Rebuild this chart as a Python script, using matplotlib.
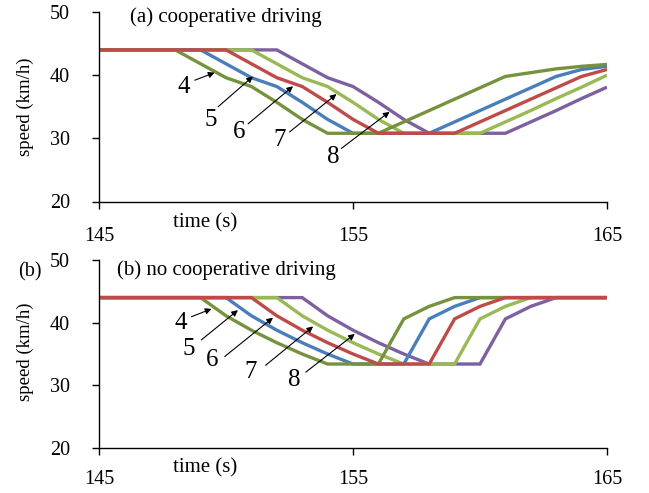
import matplotlib
matplotlib.use("Agg")
import matplotlib.pyplot as plt

plt.rcParams['font.family'] = ['Liberation Serif', 'DejaVu Serif']

time = [145, 146, 147, 148, 149, 150, 151, 152, 153, 154, 155,
        156, 157, 158, 159, 160, 161, 162, 163, 164, 165]

# (a) cooperative driving
coop_4 = [44, 44, 44, 44, 41.8, 39.6, 38.2, 35.7, 33.0, 30.8, 30.8,
          30.8, 32.6, 34.4, 36.2, 38.0, 39.8, 40.4, 41.0, 41.4, 41.7]
coop_5 = [44, 44, 44, 44, 44, 41.8, 39.6, 38.2, 35.7, 33.0, 30.8,
          30.8, 30.8, 30.8, 32.6, 34.4, 36.2, 38.0, 39.8, 40.9, 41.4]
coop_6 = [44, 44, 44, 44, 44, 44, 41.8, 39.6, 38.2, 35.7, 33.0,
          30.8, 30.8, 30.8, 30.8, 32.6, 34.4, 36.2, 38.0, 39.8, 40.9]
coop_7 = [44, 44, 44, 44, 44, 44, 44, 41.8, 39.6, 38.2, 35.7,
          33.0, 30.8, 30.8, 30.8, 30.8, 32.6, 34.4, 36.3, 38.1, 40.0]
coop_8 = [44, 44, 44, 44, 44, 44, 44, 44, 41.8, 39.6, 38.2,
          35.7, 33.0, 30.8, 30.8, 30.8, 30.8, 32.6, 34.4, 36.3, 38.1]

# (b) no cooperative driving
nocoop_4 = [44, 44, 44, 44, 44, 41.1, 38.8, 36.8, 35.0, 33.4, 33.4,
            33.4, 40.6, 42.6, 44, 44, 44, 44, 44, 44, 44]
nocoop_5 = [44, 44, 44, 44, 44, 44, 41.1, 38.8, 36.8, 35.0, 33.4,
            33.4, 33.4, 40.6, 42.6, 44, 44, 44, 44, 44, 44]
nocoop_6 = [44, 44, 44, 44, 44, 44, 44, 41.1, 38.8, 36.8, 35.0,
            33.4, 33.4, 33.4, 40.6, 42.6, 44, 44, 44, 44, 44]
nocoop_7 = [44, 44, 44, 44, 44, 44, 44, 44, 41.1, 38.8, 36.8,
            35.0, 33.4, 33.4, 33.4, 40.6, 42.6, 44, 44, 44, 44]
nocoop_8 = [44, 44, 44, 44, 44, 44, 44, 44, 44, 41.1, 38.8,
            36.8, 35.0, 33.4, 33.4, 33.4, 40.6, 42.6, 44, 44, 44]

labels = ['4', '5', '6', '7', '8']
colors = {'4': '#76923C', '5': '#4A7EBB', '6': '#BE4B48', '7': '#98B954', '8': '#7D60A0'}
# drawing order bottom -> top
draw_order = ['8', '7', '5', '4', '6']

xticks = [145, 155, 165]
yticks = [20, 30, 40, 50]

# annotation positions (label xy, arrow start, arrow end) in data coords
ann_a = {'4': ((148.33, 38.1), (148.77, 39.2), (149.55, 40.4)),
         '5': ((149.40, 32.9), (149.69, 35.0), (151.06, 39.8)),
         '6': ((150.51, 31.0), (150.87, 32.3), (152.64, 38.25)),
         '7': ((152.11, 29.7), (152.5, 31.0), (154.35, 37.0)),
         '8': ((154.24, 27.0), (154.54, 28.4), (156.44, 34.2))}
ann_b = {'4': ((148.21, 40.0), (148.64, 40.95), (149.43, 42.2)),
         '5': ((148.54, 35.8), (149.03, 37.25), (150.47, 42.0)),
         '6': ((149.46, 34.0), (149.95, 34.6), (151.85, 40.8)),
         '7': ((150.96, 32.1), (151.56, 33.2), (153.43, 39.4)),
         '8': ((152.67, 30.8), (153.14, 32.1), (155.07, 38.2))}

fig = plt.figure(figsize=(6.49, 4.93), dpi=100)
W, H = 649, 493
ax_a = fig.add_axes([99/W, 1-201.5/H, 508/W, 189.5/H])
ax_b = fig.add_axes([99/W, 1-448/H, 508/W, 188/H])

panels = [
    (ax_a, [coop_4, coop_5, coop_6, coop_7, coop_8], ann_a, '(a) cooperative driving', (0.061, 0.974), 13.5, -0.114),
    (ax_b, [nocoop_4, nocoop_5, nocoop_6, nocoop_7, nocoop_8], ann_b, '(b) no cooperative driving', (0.035, 0.947), 11, -0.106),
]

for ax, series, ann, title, tpos, xpad, tlab_y in panels:
    data = dict(zip(labels, series))
    for k in draw_order:
        ax.plot(time, data[k], color=colors[k], lw=2.4, solid_joinstyle='miter',
                solid_capstyle='butt')
    ax.set_xlim(145, 165)
    ax.set_ylim(20, 50)
    ax.set_xticks(xticks)
    ax.set_yticks(yticks)
    for s in ['top', 'right']:
        ax.spines[s].set_visible(False)
    for s in ['left', 'bottom']:
        ax.spines[s].set_linewidth(1.0)
        ax.spines[s].set_clip_on(False)
    ax.tick_params(axis='both', direction='out', length=5, width=1.0, labelsize=14.5)
    ax.tick_params(axis='x', pad=xpad)
    ax.tick_params(axis='y', pad=16)
    ax.text(tpos[0], tpos[1], title, transform=ax.transAxes, fontsize=15,
            ha='left', va='center')
    ax.text(0.209, tlab_y, 'time (s)', transform=ax.transAxes, fontsize=15,
            ha='center', va='center')
    for k in labels:
        lab, start, end = ann[k]
        ax.annotate('', xy=end, xytext=start,
                    arrowprops=dict(arrowstyle='-|>', lw=0.8, color='black',
                                    mutation_scale=9, shrinkA=0, shrinkB=0))
        ax.text(lab[0], lab[1], k, fontsize=18, ha='center', va='center')

fig.text(25/W, 1-107/H, 'speed (km/h)', rotation=90, fontsize=13.5,
         ha='center', va='center')
fig.text(25/W, 1-352/H, 'speed (km/h)', rotation=90, fontsize=13.5,
         ha='center', va='center')
fig.text(29.5/W, 1-272/H, '(b)', fontsize=14.5, ha='center', va='center')

fig.savefig('out.png', dpi=100)
